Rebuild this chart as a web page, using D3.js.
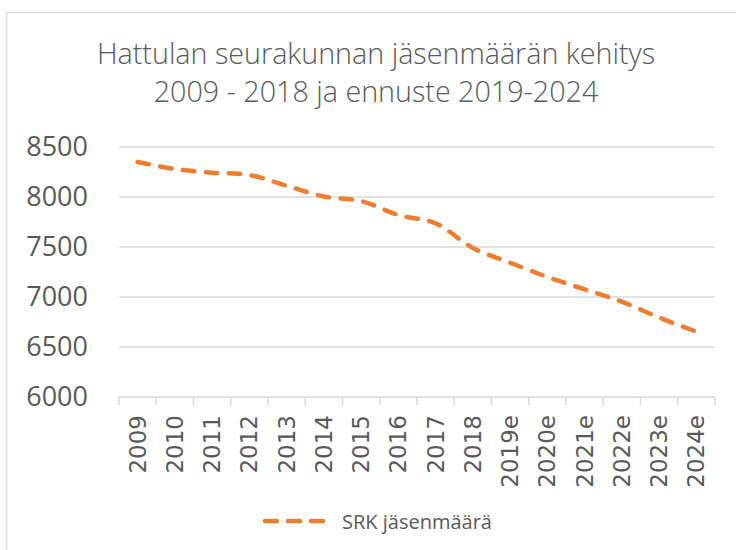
<!DOCTYPE html>
<html>
<head>
<meta charset="utf-8">
<script src="https://cdn.jsdelivr.net/npm/d3@7"></script>
<style>
  body { margin: 0; background: #fff; }
  svg { display: block; }
</style>
</head>
<body>
<svg id="kaavio" width="736" height="550"></svg>
<script>
// vuodet ja jäsenmäärät (2019e- ennuste)
const vuodet = ["2009", "2010", "2011", "2012", "2013", "2014", "2015", "2016", "2017", "2018",
  "2019e", "2020e", "2021e", "2022e", "2023e", "2024e"];
const jasenet = [8350, 8280, 8243, 8220, 8113, 8005, 7960, 7820, 7737, 7490,
  7343, 7200, 7077, 6953, 6795, 6653];
const yTicks = [6000, 6500, 7000, 7500, 8000, 8500];
const otsikko = ["Hattulan seurakunnan jäsenmäärän kehitys", "2009 - 2018 ja ennuste 2019-2024"];
const sarjaNimi = "SRK jäsenmäärä";

const vari = "#ED7D31";
const tekstiVari = "#595959";
const viivaVari = "#d9d9d9";

let svg = d3.select("#kaavio");

// kehys
svg.append("rect")
  .attr("x", 6.5).attr("y", 12.5)
  .attr("width", 760).attr("height", 580)
  .style("fill", "#fff")
  .style("stroke", viivaVari)
  .style("stroke-width", 1.5);

// otsikko
svg.selectAll(".otsikko")
  .data(otsikko)
  .enter()
  .append("text")
  .attr("class", "otsikko")
  .text(d => d)
  .attr("x", 376)
  .attr("y", (d, i) => 63.5 + i * 38)
  .attr("text-anchor", "middle")
  .style("font-family", "'Open Sans', sans-serif")
  .style("font-weight", 300)
  .style("font-size", "28.7px")
  .style("fill", tekstiVari);

let x = d3.scaleBand().domain(vuodet).range([119, 715]);
let y = d3.scaleLinear().domain([6000, 8500]).range([397, 147]);

// ruudukko
svg.selectAll(".ruutu")
  .data(yTicks.slice(1))
  .enter()
  .append("line")
  .attr("x1", 119).attr("x2", 715)
  .attr("y1", d => y(d)).attr("y2", d => y(d))
  .style("stroke", viivaVari)
  .style("stroke-width", 1.5);

// y-akselin tekstit
svg.selectAll(".yTeksti")
  .data(yTicks)
  .enter()
  .append("text")
  .text(d => d)
  .attr("x", 88)
  .attr("y", d => y(d))
  .attr("dy", "0.35em")
  .attr("text-anchor", "end")
  .style("font-family", "'Open Sans', sans-serif")
  .style("font-size", "27px")
  .style("fill", tekstiVari);

// x-akseli
let xAkseli = svg.append("g")
  .attr("transform", "translate(0," + y(6000) + ")");
xAkseli.append("line")
  .attr("x1", 119).attr("x2", 715)
  .style("stroke", viivaVari)
  .style("stroke-width", 1.5);
let rajat = vuodet.map(v => x(v)).concat([x.range()[1]]);
xAkseli.selectAll(".tikki")
  .data(rajat)
  .enter()
  .append("line")
  .attr("x1", d => d).attr("x2", d => d)
  .attr("y1", 0).attr("y2", 8)
  .style("stroke", viivaVari)
  .style("stroke-width", 1.5);
xAkseli.selectAll(".xTeksti")
  .data(vuodet)
  .enter()
  .append("text")
  .text(d => d)
  .attr("transform", d => "translate(" + (x(d) + x.bandwidth() / 2) + ",18) rotate(-90)")
  .attr("dy", "0.35em")
  .attr("text-anchor", "end")
  .style("font-family", "'DejaVu Sans', sans-serif")
  .style("font-size", "23px")
  .style("fill", tekstiVari);

// viiva
let viiva = d3.line()
  .x((d, i) => x(vuodet[i]) + x.bandwidth() / 2)
  .y(d => y(d))
  .curve(d3.curveCatmullRom.alpha(0.5));

svg.append("path")
  .datum(jasenet)
  .attr("d", viiva)
  .style("fill", "none")
  .style("stroke", vari)
  .style("stroke-width", 4.5)
  .style("stroke-dasharray", "11.5,11.5")
  .style("stroke-linecap", "round");

// selite
svg.append("line")
  .attr("x1", 265).attr("x2", 327)
  .attr("y1", 521).attr("y2", 521)
  .style("stroke", vari)
  .style("stroke-width", 4.5)
  .style("stroke-dasharray", "12,11")
  .style("stroke-linecap", "round");
svg.append("text")
  .text(sarjaNimi)
  .attr("x", 342)
  .attr("y", 528.5)
  .style("font-family", "'Open Sans', sans-serif")
  .style("font-size", "20px")
  .style("fill", tekstiVari);
</script>
</body>
</html>
